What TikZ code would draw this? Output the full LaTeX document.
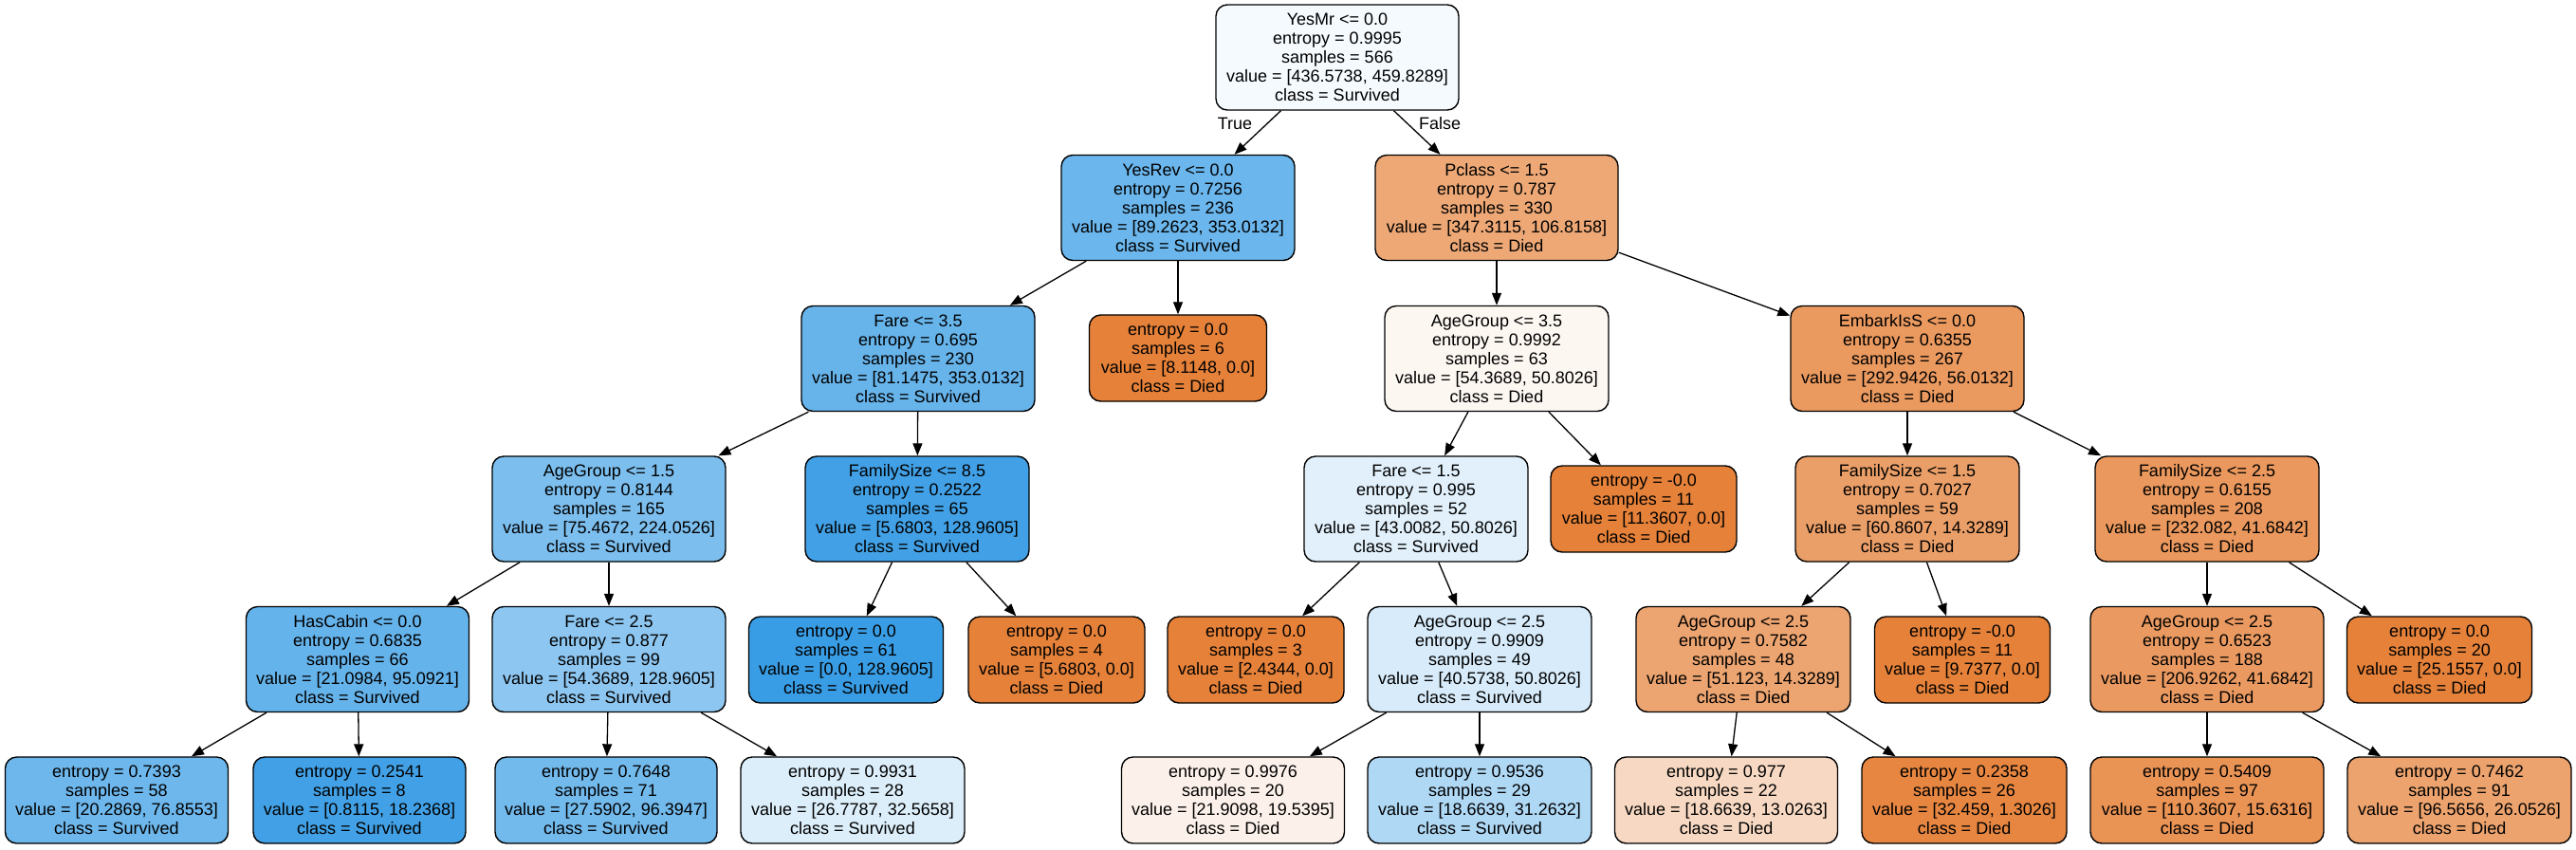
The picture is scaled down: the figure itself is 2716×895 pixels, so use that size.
\documentclass[tikz,border=0pt]{standalone}
\usepackage{fontspec}
\setmainfont{Liberation Sans}
\usetikzlibrary{arrows.meta}
\definecolor{cS}{RGB}{57,157,229}
\definecolor{cD}{RGB}{229,129,57}
\tikzset{
  box/.style={draw=black, line width=1.4pt, rounded corners=12pt, align=center, inner sep=1pt,
    font=\fontsize{18}{20}\selectfont},
  inner/.style={box, minimum height=111pt},
  leaf/.style={box, minimum height=91pt},
  edge/.style={line width=1.3pt, -{Triangle[length=13pt,width=10pt]}},
  elabel/.style={font=\fontsize{18}{20}\selectfont, inner sep=0pt}
}
\begin{document}
\begin{tikzpicture}[x=1pt,y=-1pt]
\fill[white] (0,0) rectangle (2716,895);
\useasboundingbox (0,0) rectangle (2716,895);
% level 0
\node[inner, minimum width=256pt, fill=cS!5!white] (n0) at (1410,60.5) {YesMr <= 0.0\\entropy = 0.9995\\samples = 566\\value = [436.5738, 459.8289]\\class = Survived};
% level 1
\node[inner, minimum width=246pt, fill=cS!74.7!white] (n1) at (1242,219) {YesRev <= 0.0\\entropy = 0.7256\\samples = 236\\value = [89.2623, 353.0132]\\class = Survived};
\node[inner, minimum width=256pt, fill=cD!69.2!white] (n2) at (1578,219) {Pclass <= 1.5\\entropy = 0.787\\samples = 330\\value = [347.3115, 106.8158]\\class = Died};
% level 2
\node[inner, minimum width=246pt, fill=cS!77!white] (n3) at (968,378) {Fare <= 3.5\\entropy = 0.695\\samples = 230\\value = [81.1475, 353.0132]\\class = Survived};
\node[leaf, minimum width=187pt, fill=cD] (n4) at (1242,377.5) {entropy = 0.0\\samples = 6\\value = [8.1148, 0.0]\\class = Died};
\node[inner, minimum width=236pt, fill=cD!6.6!white] (n5) at (1578,378) {AgeGroup <= 3.5\\entropy = 0.9992\\samples = 63\\value = [54.3689, 50.8026]\\class = Died};
\node[inner, minimum width=246pt, fill=cD!80.9!white] (n6) at (2011,378) {EmbarkIsS <= 0.0\\entropy = 0.6355\\samples = 267\\value = [292.9426, 56.0132]\\class = Died};
% level 3
\node[inner, minimum width=246pt, fill=cS!66.3!white] (n7) at (642,536.5) {AgeGroup <= 1.5\\entropy = 0.8144\\samples = 165\\value = [75.4672, 224.0526]\\class = Survived};
\node[inner, minimum width=236pt, fill=cS!95.6!white] (n8) at (967,536.5) {FamilySize <= 8.5\\entropy = 0.2522\\samples = 65\\value = [5.6803, 128.9605]\\class = Survived};
\node[inner, minimum width=236pt, fill=cS!15.3!white] (n9) at (1493,536.5) {Fare <= 1.5\\entropy = 0.995\\samples = 52\\value = [43.0082, 50.8026]\\class = Survived};
\node[leaf, minimum width=196pt, fill=cD] (n10) at (1733,536.5) {entropy = -0.0\\samples = 11\\value = [11.3607, 0.0]\\class = Died};
\node[inner, minimum width=236pt, fill=cD!76.5!white] (n11) at (2011,536.5) {FamilySize <= 1.5\\entropy = 0.7027\\samples = 59\\value = [60.8607, 14.3289]\\class = Died};
\node[inner, minimum width=236pt, fill=cD!82!white] (n12) at (2327,536.5) {FamilySize <= 2.5\\entropy = 0.6155\\samples = 208\\value = [232.082, 41.6842]\\class = Died};
% level 4
\node[inner, minimum width=235pt, fill=cS!77.8!white] (n13) at (377,695) {HasCabin <= 0.0\\entropy = 0.6835\\samples = 66\\value = [21.0984, 95.0921]\\class = Survived};
\node[inner, minimum width=246pt, fill=cS!57.8!white] (n14) at (642,695) {Fare <= 2.5\\entropy = 0.877\\samples = 99\\value = [54.3689, 128.9605]\\class = Survived};
\node[leaf, minimum width=205pt, fill=cS] (n15) at (892,695.5) {entropy = 0.0\\samples = 61\\value = [0.0, 128.9605]\\class = Survived};
\node[leaf, minimum width=186pt, fill=cD] (n16) at (1114,695.5) {entropy = 0.0\\samples = 4\\value = [5.6803, 0.0]\\class = Died};
\node[leaf, minimum width=186pt, fill=cD] (n17) at (1324,695.5) {entropy = 0.0\\samples = 3\\value = [2.4344, 0.0]\\class = Died};
\node[inner, minimum width=236pt, fill=cS!20.1!white] (n18) at (1560,695) {AgeGroup <= 2.5\\entropy = 0.9909\\samples = 49\\value = [40.5738, 50.8026]\\class = Survived};
\node[inner, minimum width=226pt, fill=cD!72!white] (n19) at (1838,695) {AgeGroup <= 2.5\\entropy = 0.7582\\samples = 48\\value = [51.123, 14.3289]\\class = Died};
\node[leaf, minimum width=185pt, fill=cD] (n20) at (2069,695.5) {entropy = -0.0\\samples = 11\\value = [9.7377, 0.0]\\class = Died};
\node[inner, minimum width=246pt, fill=cD!79.9!white] (n21) at (2327,695) {AgeGroup <= 2.5\\entropy = 0.6523\\samples = 188\\value = [206.9262, 41.6842]\\class = Died};
\node[leaf, minimum width=195pt, fill=cD] (n22) at (2572,695.5) {entropy = 0.0\\samples = 20\\value = [25.1557, 0.0]\\class = Died};
% level 5
\node[leaf, minimum width=235pt, fill=cS!73.6!white] (n23) at (123,843.5) {entropy = 0.7393\\samples = 58\\value = [20.2869, 76.8553]\\class = Survived};
\node[leaf, minimum width=224pt, fill=cS!95.5!white] (n24) at (379,843.5) {entropy = 0.2541\\samples = 8\\value = [0.8115, 18.2368]\\class = Survived};
\node[leaf, minimum width=234pt, fill=cS!71.4!white] (n25) at (639,843.5) {entropy = 0.7648\\samples = 71\\value = [27.5902, 96.3947]\\class = Survived};
\node[leaf, minimum width=236pt, fill=cS!17.8!white] (n26) at (899,843.5) {entropy = 0.9931\\samples = 28\\value = [26.7787, 32.5658]\\class = Survived};
\node[leaf, minimum width=235pt, fill=cD!10.8!white] (n27) at (1300,843.5) {entropy = 0.9976\\samples = 20\\value = [21.9098, 19.5395]\\class = Died};
\node[leaf, minimum width=236pt, fill=cS!40.3!white] (n28) at (1560,843.5) {entropy = 0.9536\\samples = 29\\value = [18.6639, 31.2632]\\class = Survived};
\node[leaf, minimum width=235pt, fill=cD!30.2!white] (n29) at (1820,843.5) {entropy = 0.977\\samples = 22\\value = [18.6639, 13.0263]\\class = Died};
\node[leaf, minimum width=216pt, fill=cD!96!white] (n30) at (2071,843.5) {entropy = 0.2358\\samples = 26\\value = [32.459, 1.3026]\\class = Died};
\node[leaf, minimum width=246pt, fill=cD!85.8!white] (n31) at (2327,843.5) {entropy = 0.5409\\samples = 97\\value = [110.3607, 15.6316]\\class = Died};
\node[leaf, minimum width=236pt, fill=cD!73!white] (n32) at (2593,843.5) {entropy = 0.7462\\samples = 91\\value = [96.5656, 26.0526]\\class = Died};
% edge labels
\node[elabel] (lt) at (1302,130) {True};
\node[elabel] (lf) at (1518,130) {False};
% edges
\foreach \a/\b in {n0/n1,n0/n2,n1/n3,n1/n4,n2/n5,n2/n6,n3/n7,n3/n8,n5/n9,n5/n10,n6/n11,n6/n12,
  n7/n13,n7/n14,n8/n15,n8/n16,n9/n17,n9/n18,n11/n19,n11/n20,n12/n21,n12/n22,
  n13/n23,n13/n24,n14/n25,n14/n26,n18/n27,n18/n28,n19/n29,n19/n30,n21/n31,n21/n32}
  \draw[edge] (\a) -- (\b);
\end{tikzpicture}
\end{document}
